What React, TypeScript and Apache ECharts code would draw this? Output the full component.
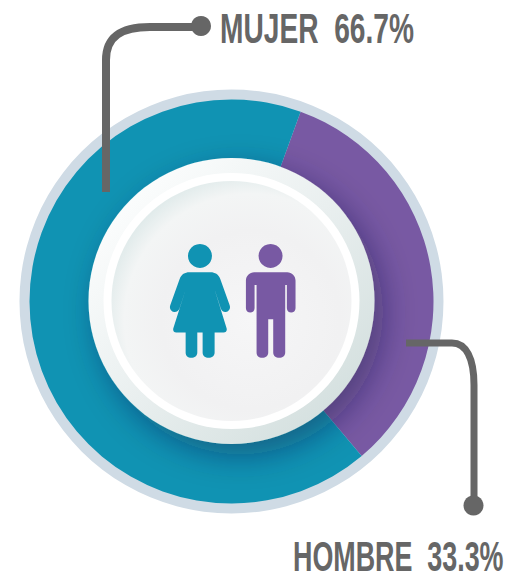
import React, { useEffect, useRef } from "react";
import * as echarts from "echarts";

const categories = ["HOMBRE", "MUJER"];
const values = [33.3, 66.7];
const colors = ["#7859a3", "#1093b3"];

const WOMAN = "M120 42a36 36 0 1 0 .01 0ZM88 127H152C165 127 176 133 181 147L209 225C213 236 207 244 198 246C190 247 185 242 182 234L163 176L200 295C202 303 198 308 191 308H164V368C164 378 156 384 146 384C136 384 128 378 128 368V308H112V368C112 378 104 384 94 384C84 384 77 378 77 368V308H49C42 308 38 303 40 295L78 176L59 234C56 242 50 247 42 246C33 244 27 236 31 225L59 147C64 133 75 127 88 127Z";
const MAN = "M332 42a36 36 0 1 0 .01 0ZM283 127H382C396 127 407 138 407 152V235C407 243 401 248 394 248C387 248 381 243 381 235V165H376V368C376 378 368 384 358 384C348 384 340 378 340 368V268H325V368C325 378 317 384 307 384C297 384 290 378 290 368V165H284V235C284 243 278 248 271 248C264 248 258 243 258 235V152C258 138 269 127 283 127Z";
const LEADER_TOP = "M106 192V60C106 36 122 27 150 27H198";
const LEADER_BOTTOM = "M406 343H452C466 343 474 358 474 385V505";

echarts.graphic.registerShape("woman", echarts.graphic.extendPath(WOMAN, {}));
echarts.graphic.registerShape("man", echarts.graphic.extendPath(MAN, {}));
echarts.graphic.registerShape("leaderTop", echarts.graphic.extendPath(LEADER_TOP, {}));
echarts.graphic.registerShape("leaderBottom", echarts.graphic.extendPath(LEADER_BOTTOM, {}));

export default function App() {
  const ref = useRef<HTMLDivElement>(null);
  useEffect(() => {
    const chart = echarts.init(ref.current!, null, { renderer: "svg" });
    const cx = 231.5, cy = 301.5;
    const leaderStyle = { fill: "none", stroke: "#666666", lineWidth: 8 };
    const textBase = { fill: "#666666", fontFamily: '"Liberation Sans", sans-serif', fontWeight: "bold", fontSize: 43, verticalAlign: "top" };
    chart.setOption({
      animation: false,
      backgroundColor: "#fff",
      series: [
        {
          type: "pie",
          silent: true,
          z: 1,
          center: [cx, cy],
          radius: [0, 212],
          label: { show: false },
          data: [{ value: 1, itemStyle: { color: "#cfdbe5" } }],
        },
        {
          type: "pie",
          silent: true,
          z: 2,
          center: [cx, cy],
          radius: [140, 202],
          startAngle: 70,
          label: { show: false },
          data: categories.map((name, i) => ({ name, value: values[i], itemStyle: { color: colors[i] } })),
        },
      ],
      graphic: [
        {
          type: "circle", z: 10, shape: { cx, cy: cy - 0.5, r: 143 },
          style: {
            fill: { type: "linear", x: 0, y: 0, x2: 1, y2: 1, colorStops: [{ offset: 0.1, color: "#fdfefe" }, { offset: 0.5, color: "#e9efef" }, { offset: 0.9, color: "#d3dfde" }] },
            shadowBlur: 32, shadowOffsetX: 9, shadowOffsetY: 11, shadowColor: "rgba(25,30,70,0.42)",
          },
        },
        { type: "circle", z: 11, shape: { cx, cy: cy - 0.5, r: 128 }, style: { fill: "#ffffff" } },
        {
          type: "circle", z: 12, shape: { cx, cy: cy - 0.5, r: 120 },
          style: { fill: { type: "radial", x: 0.58, y: 0.58, r: 0.62, colorStops: [{ offset: 0, color: "#f6f6f7" }, { offset: 0.6, color: "#f1f1f2" }, { offset: 0.85, color: "#f3f5f5" }, { offset: 1, color: "#dfeaea" }] } },
        },
        { type: "woman", z: 14, x: 160, y: 230, scaleX: 1 / 3, scaleY: 1 / 3, style: { fill: colors[1] } },
        { type: "man", z: 14, x: 160, y: 230, scaleX: 1 / 3, scaleY: 1 / 3, style: { fill: colors[0] } },
        { type: "leaderTop", z: 20, style: leaderStyle },
        { type: "leaderBottom", z: 20, style: { ...leaderStyle, lineWidth: 7 } },
        { type: "circle", z: 21, shape: { cx: 201, cy: 26, r: 10 }, style: { fill: "#666666" } },
        { type: "circle", z: 21, shape: { cx: 473.5, cy: 505.5, r: 10 }, style: { fill: "#666666" } },
        { type: "text", z: 22, x: 220, y: 7, scaleX: 0.655, style: { ...textBase, text: `MUJER  ${values[1]}%` } },
        { type: "text", z: 22, x: 293, y: 535, scaleX: 0.625, style: { ...textBase, text: `HOMBRE  ${values[0]}%` } },
      ],
    });
    return () => chart.dispose();
  }, []);
  return <div ref={ref} style={{ width: 520, height: 572, position: "absolute", left: 0, top: 0 }} />;
}
